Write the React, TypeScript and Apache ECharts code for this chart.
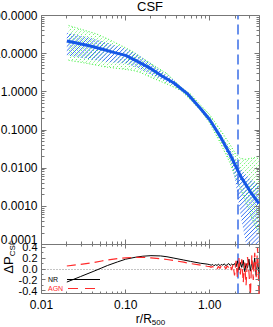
import React, { useEffect, useRef } from 'react';
import * as echarts from 'echarts';

const FONT = '"Liberation Sans", Arial, Helvetica, sans-serif';

// ---------- texts ----------
const titleText = 'CSF';
const xAxisTitle = 'r/R{sub|500}';
const deltaTitle = 'ΔP{sub|CSF}';
const legendNames = ['NR', 'AGN'];

// ---------- main panel: pressure profile ----------
const rMain = [0.020, 0.027, 0.038, 0.052, 0.070, 0.10, 0.14, 0.20, 0.27, 0.375, 0.54, 0.78, 1.0, 1.34, 1.76, 2.32, 3.04, 3.83];
const pMain = [21.5, 18.7, 15.9, 13.2, 11.0, 9.0, 6.2, 4.05, 2.6, 1.7, 0.9, 0.36, 0.186, 0.066, 0.022, 0.0062, 0.0024, 0.0012];

const rBlueBand = [0.020, 0.027, 0.038, 0.052, 0.070, 0.10, 0.14, 0.20, 0.27, 0.375, 0.54, 0.78, 1.0, 1.34, 1.76, 2.0, 2.32, 2.7, 3.04, 3.83];
const blueHi = [36, 31, 26, 21, 17, 13.5, 9.5, 5.5, 3.4, 2.0, 1.0, 0.40, 0.20, 0.080, 0.030, 0.018, 0.0095, 0.0065, 0.0052, 0.0035];
const blueLo = [8.9, 8.0, 7.0, 6.3, 5.9, 5.5, 4.2, 2.8, 2.1, 1.45, 0.82, 0.33, 0.17, 0.054, 0.015, 0.005, 0.0006, 0.0001, 0.00003, 0.00001];

const rGreenBand = [0.021, 0.03, 0.045, 0.061, 0.09, 0.125, 0.15, 0.2, 0.31, 0.45, 0.6, 0.8, 1.0, 1.34, 1.76, 2.0, 2.32, 2.7, 3.04, 3.5, 3.9];
const greenHi = [55, 43, 33, 24.5, 16, 11, 8.2, 5.5, 3.0, 1.35, 0.85, 0.42, 0.25, 0.10, 0.04, 0.025, 0.018, 0.017, 0.018, 0.019, 0.021];
const greenLo = [6.7, 5.9, 5.0, 4.4, 4.0, 3.6, 3.2, 2.4, 1.6, 1.1, 0.6, 0.30, 0.15, 0.045, 0.013, 0.006, 0.003, 0.0012, 0.0006, 0.0003, 0.0002];

const R200 = 2.17;

// ---------- lower panel: residuals ----------
const rDelta = [0.020, 0.029, 0.042, 0.052, 0.061, 0.080, 0.10, 0.13, 0.16, 0.20, 0.26, 0.31, 0.375, 0.49, 0.59, 0.78, 0.93,
  1.00, 1.04, 1.08, 1.12, 1.17, 1.22, 1.27, 1.32, 1.37, 1.43, 1.49, 1.55, 1.61, 1.68, 1.75, 1.82, 1.89, 1.97,
  2.05, 2.13, 2.22, 2.31, 2.40, 2.50, 2.60, 2.70, 2.81, 2.92, 3.04, 3.16, 3.29, 3.42, 3.56, 3.70, 3.85];
const nrDelta = [-0.24, -0.14, -0.04, 0.02, 0.065, 0.13, 0.18, 0.215, 0.235, 0.245, 0.24, 0.225, 0.20, 0.165, 0.14, 0.105, 0.09,
  0.08, 0.07, 0.085, 0.06, 0.08, 0.065, 0.09, 0.06, 0.085, 0.07, 0.095, 0.06, 0.08, 0.1, 0.065, 0.09, 0.07, 0.1,
  0.04, 0.15, -0.02, 0.12, 0.03, 0.16, -0.05, 0.1, 0.02, 0.18, -0.04, 0.14, 0.0, 0.2, -0.12, 0.15, -0.08];
const agnDelta = [0.055, 0.085, 0.12, 0.147, 0.165, 0.19, 0.205, 0.215, 0.215, 0.205, 0.19, 0.175, 0.155, 0.125, 0.10, 0.07, 0.05,
  0.045, 0.03, 0.05, 0.02, 0.04, 0.0, 0.05, 0.01, 0.06, 0.02, 0.05, 0.0, 0.06, 0.02, 0.07, -0.02, 0.08, -0.12,
  0.15, -0.15, 0.2, -0.1, 0.18, -0.25, 0.12, -0.3, 0.22, -0.05, -0.48, 0.25, -0.2, 0.3, -0.15, 0.4, -0.5];

// ---------- ticks ----------
const xMajorTicks = [0.01, 0.1, 1];
const xMinorTicks = [0.02, 0.03, 0.04, 0.05, 0.06, 0.07, 0.08, 0.09, 0.2, 0.3, 0.4, 0.5, 0.6, 0.7, 0.8, 0.9, 2, 3];
const yMajorTicks = [0.0001, 0.001, 0.01, 0.1, 1, 10, 100];
const yDecades = [0.0001, 0.001, 0.01, 0.1, 1, 10];
const yMantissas = [2, 3, 4, 5, 6, 7, 8, 9];
const dMajorTicks = [-0.4, -0.2, 0, 0.2, 0.4];
const dMinorTicks = [-0.3, -0.1, 0.1, 0.3];

const AXIS_COLOR = '#777777';
const BLUE_LINE = '#1557e6';
const BLUE_HATCH = '#3b73f5';
const DASH_BLUE = '#3a6ee6';
const GREEN = '#3cf03c';
const RED = '#ff2a2a';

const pairs = (xs: number[], ys: number[]) => xs.map((x, i) => [x, ys[i]]);

function bandRenderer(rs: number[], hi: number[], lo: number[], spacing: number, color: string, dash: number[] | null, width: number) {
  return (params: any, api: any) => {
    const cs = params.coordSys;
    const up = rs.map((r, i) => api.coord([r, hi[i]]));
    const dn = rs.map((r, i) => api.coord([r, lo[i]])).reverse();
    const pts = up.concat(dn);
    let minX = Infinity, maxX = -Infinity, minY = Infinity, maxY = -Infinity;
    pts.forEach((p: number[]) => {
      minX = Math.min(minX, p[0]); maxX = Math.max(maxX, p[0]);
      minY = Math.min(minY, p[1]); maxY = Math.max(maxY, p[1]);
    });
    minX = Math.max(minX, cs.x - 2); maxX = Math.min(maxX, cs.x + cs.width + 2);
    minY = Math.max(minY, cs.y - 2); maxY = Math.min(maxY, cs.y + cs.height + 2);
    const children: any[] = [];
    const start = Math.floor((minX + minY) / spacing) * spacing;
    for (let c = start; c <= maxX + maxY + spacing; c += spacing) {
      children.push({
        type: 'line',
        silent: true,
        shape: { x1: c - maxY, y1: maxY, x2: c - minY, y2: minY },
        style: { stroke: color, lineWidth: width, lineDash: dash || undefined },
      });
    }
    return { type: 'group', clipPath: { type: 'polygon', shape: { points: pts } }, children };
  };
}

function ticksRenderer(xMaj: number[], xMin: number[], yMaj: number[], yMin: number[], xRef: number, yRef: number, majLen: number, minLen: number) {
  return (params: any, api: any) => {
    const cs = params.coordSys;
    const left = cs.x, right = cs.x + cs.width, top = cs.y, bottom = cs.y + cs.height;
    const crisp = (v: number) => Math.round(v - 0.5) + 0.5;
    const kids: any[] = [];
    const seg = (x1: number, y1: number, x2: number, y2: number) => kids.push({
      type: 'line', silent: true, shape: { x1, y1, x2, y2 }, style: { stroke: AXIS_COLOR, lineWidth: 1 },
    });
    const addX = (v: number, len: number) => {
      const px = crisp(api.coord([v, yRef])[0]);
      seg(px, bottom, px, bottom - len);
      seg(px, top, px, top + len);
    };
    const addY = (v: number, len: number) => {
      const py = crisp(api.coord([xRef, v])[1]);
      seg(left, py, left + len, py);
      seg(right, py, right - len, py);
    };
    xMaj.forEach((v) => addX(v, majLen));
    xMin.forEach((v) => addX(v, minLen));
    yMaj.forEach((v) => addY(v, majLen));
    yMin.forEach((v) => addY(v, minLen));
    return { type: 'group', children: kids };
  };
}

function buildOption(): any {
  const yMinorMain: number[] = [];
  yDecades.forEach((d) => yMantissas.forEach((m) => yMinorMain.push(d * m)));

  const logX = (gridIndex: number, showLabels: boolean) => ({
    type: 'log', logBase: 10, gridIndex, min: 0.01, max: 3.9,
    axisLine: { show: false }, axisTick: { show: false }, splitLine: { show: false },
    axisLabel: {
      show: showLabels, margin: 5, fontSize: 12, color: '#000', fontFamily: FONT,
      showMinLabel: true, showMaxLabel: false,
      formatter: (v: number) => v.toFixed(2),
    },
  });

  const gridBase = {
    left: 41.5, width: 218, show: true, borderColor: AXIS_COLOR, borderWidth: 1,
    backgroundColor: 'transparent', containLabel: false, outerBoundsMode: 'none',
  };

  return {
    animation: false,
    backgroundColor: '#fff',
    title: {
      text: titleText, left: 137, top: 0, padding: 0,
      textStyle: { fontSize: 13, fontWeight: 'normal', color: '#000', fontFamily: FONT },
    },
    grid: [
      { ...gridBase, top: 15.5, height: 229 },
      { ...gridBase, top: 244.5, height: 49 },
    ],
    xAxis: [
      logX(0, false),
      {
        ...logX(1, true),
        name: xAxisTitle, nameLocation: 'middle', nameGap: 17,
        nameTextStyle: {
          fontSize: 12, color: '#000', fontFamily: FONT, lineHeight: 15,
          rich: { sub: { fontSize: 8, lineHeight: 8, verticalAlign: 'bottom', fontFamily: FONT, color: '#000' } },
        },
      },
    ],
    yAxis: [
      {
        type: 'log', logBase: 10, gridIndex: 0, min: 0.0001, max: 100,
        axisLine: { show: false }, axisTick: { show: false }, splitLine: { show: false },
        axisLabel: {
          margin: 4, fontSize: 12, lineHeight: 10, color: '#000', fontFamily: FONT,
          verticalAlignMinLabel: 'bottom',
          formatter: (v: number) => v.toFixed(4),
        },
      },
      {
        type: 'value', gridIndex: 1, min: -0.45, max: 0.45, minInterval: 0.2, maxInterval: 0.2,
        axisLine: { show: false }, axisTick: { show: false }, splitLine: { show: false },
        axisLabel: {
          margin: 4, fontSize: 11, lineHeight: 6, color: '#000', fontFamily: FONT,
          showMinLabel: false, showMaxLabel: false,
          formatter: (v: number) => v.toFixed(1),
        },
      },
    ],
    graphic: [
      {
        type: 'text', x: 8.5, y: 257, rotation: Math.PI / 2, silent: true,
        style: {
          text: deltaTitle, fill: '#000', fontSize: 13, fontFamily: FONT, align: 'center', verticalAlign: 'middle',
          lineHeight: 16,
          rich: { sub: { fontSize: 8, lineHeight: 8, verticalAlign: 'bottom', fontFamily: FONT, fill: '#000' } },
        },
      },
      // legend (key) of the residual panel
      {
        type: 'text', x: 48, y: 279, silent: true,
        style: { text: legendNames[0], fill: '#000', fontSize: 7, fontFamily: FONT, align: 'left', verticalAlign: 'middle' },
      },
      {
        type: 'line', silent: true, shape: { x1: 67, y1: 279.5, x2: 100, y2: 279.5 },
        style: { stroke: '#000', lineWidth: 1 },
      },
      {
        type: 'text', x: 48, y: 288.5, silent: true,
        style: { text: legendNames[1], fill: RED, fontSize: 7, fontFamily: FONT, align: 'left', verticalAlign: 'middle' },
      },
      {
        type: 'line', silent: true, shape: { x1: 68, y1: 288.5, x2: 97, y2: 288.5 },
        style: { stroke: RED, lineWidth: 1.2, lineDash: [10, 7] },
      },
    ],
    series: [
      {
        type: 'custom', name: 'green band', xAxisIndex: 0, yAxisIndex: 0, silent: true, clip: true, z: 2,
        data: [[rGreenBand[0], greenHi[0]]],
        renderItem: bandRenderer(rGreenBand, greenHi, greenLo, 4, GREEN, [1, 1.5], 1),
      },
      {
        type: 'line', name: 'green upper', xAxisIndex: 0, yAxisIndex: 0, silent: true, z: 3,
        data: pairs(rGreenBand, greenHi), symbol: 'none', lineStyle: { color: GREEN, width: 1, type: [1, 2] },
      },
      {
        type: 'line', name: 'green lower', xAxisIndex: 0, yAxisIndex: 0, silent: true, z: 3,
        data: pairs(rGreenBand, greenLo), symbol: 'none', lineStyle: { color: GREEN, width: 1, type: [1, 2] },
      },
      {
        type: 'custom', name: 'blue band', xAxisIndex: 0, yAxisIndex: 0, silent: true, clip: true, z: 4,
        data: [[rBlueBand[0], blueHi[0]]],
        renderItem: bandRenderer(rBlueBand, blueHi, blueLo, 4.2, BLUE_HATCH, null, 1),
      },
      {
        type: 'line', name: 'CSF', xAxisIndex: 0, yAxisIndex: 0, silent: true, z: 5,
        data: pairs(rMain, pMain), symbol: 'none', lineStyle: { color: BLUE_LINE, width: 3 },
        markLine: {
          silent: true, symbol: 'none', label: { show: false },
          lineStyle: { color: DASH_BLUE, width: 1.5, type: [10, 5] },
          data: [{ xAxis: R200 }],
        },
      },
      {
        type: 'custom', name: 'ticks main', xAxisIndex: 0, yAxisIndex: 0, silent: true, clip: false, z: 10,
        data: [[1, 1]],
        renderItem: ticksRenderer(xMajorTicks, xMinorTicks, yMajorTicks, yMinorMain, 1, 1, 5, 3),
      },
      {
        type: 'line', name: legendNames[0], xAxisIndex: 1, yAxisIndex: 1, silent: true, z: 5,
        data: pairs(rDelta, nrDelta), symbol: 'none', lineStyle: { color: '#000', width: 1 },
        markLine: {
          silent: true, symbol: 'none', label: { show: false },
          data: [
            { yAxis: 0, lineStyle: { color: '#888', width: 1, type: [1, 2] } },
            { xAxis: R200, lineStyle: { color: DASH_BLUE, width: 1.5, type: [10, 5] } },
          ],
        },
      },
      {
        type: 'line', name: legendNames[1], xAxisIndex: 1, yAxisIndex: 1, silent: true, z: 6,
        data: pairs(rDelta, agnDelta), symbol: 'none', lineStyle: { color: RED, width: 1.2, type: [9, 5] },
      },
      {
        type: 'custom', name: 'ticks delta', xAxisIndex: 1, yAxisIndex: 1, silent: true, clip: false, z: 10,
        data: [[1, 0]],
        renderItem: ticksRenderer(xMajorTicks, xMinorTicks, dMajorTicks, dMinorTicks, 1, 0, 4, 2),
      },
    ],
  };
}

export default function App() {
  const ref = useRef<HTMLDivElement>(null);
  useEffect(() => {
    const chart = echarts.init(ref.current as HTMLDivElement, null, { renderer: 'svg' });
    chart.setOption(buildOption());
    return () => chart.dispose();
  }, []);
  return <div ref={ref} style={{ position: 'absolute', left: 0, top: 0, width: 273, height: 327 }} />;
}
